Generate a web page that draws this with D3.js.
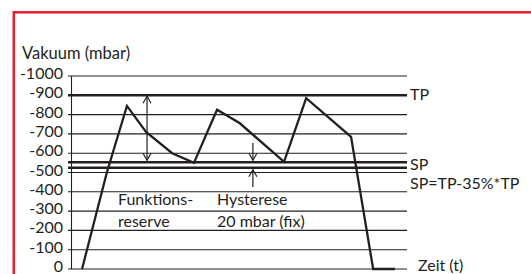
<!DOCTYPE html>
<html>
<head>
<meta charset="utf-8">
<script src="https://cdn.jsdelivr.net/npm/d3@7"></script>
<style>
    body { margin: 0; background: #fff; }
    text { font-family: Lato, "Liberation Sans", sans-serif; fill: #231f20; }
</style>
</head>
<body>
<div id="chart_area"></div>
<script>
// values
var time_vals   = [3.0, 10.4, 16.4, 22.1, 29.9, 36.4, 43.3, 50.1, 63.3, 69.9, 83.3, 89.9, 96.4];
var vacuum_vals = [0, -500, -845, -710, -600, -550, -825, -755, -555, -885, -685, 0, 0];
var y_ticks = [0, -100, -200, -300, -400, -500, -600, -700, -800, -900, -1000];
var tp_val = -900;
var sp_upper = -553;
var sp_lower = -525;
var reserve_x = 22.4;
var hyst_x = 54;

var svg_w = 531, svg_h = 274;
var svg = d3.select("#chart_area")
    .append("svg")
    .attr("width", svg_w)
    .attr("height", svg_h);

var xScale = d3.scaleLinear().domain([0, 100]).range([72, 407]);
var yScale = d3.scaleLinear().domain([0, -1000]).range([269, 76]);

// red frame
svg.append("rect")
    .attr("x", 13.8).attr("y", 12.3)
    .attr("width", 600).attr("height", 400)
    .style("fill", "none")
    .style("stroke", "#e61e2a")
    .style("stroke-width", 2.5);

svg.append("text")
    .attr("x", 22).attr("y", 59)
    .style("font-size", "16.5px")
    .text("Vakuum (mbar)");

// grid
var grid = svg.append("g").attr("id", "grid");
grid.selectAll("line")
    .data(y_ticks)
    .enter()
    .append("line")
    .attr("x1", 68)
    .attr("x2", xScale(100))
    .attr("y1", function(d){ return yScale(d); })
    .attr("y2", function(d){ return yScale(d); })
    .style("stroke", "#231f20")
    .style("stroke-width", 1.1);

grid.selectAll("text")
    .data(y_ticks)
    .enter()
    .append("text")
    .attr("x", 63)
    .attr("y", function(d){ return yScale(d) + 3; })
    .attr("text-anchor", "end")
    .style("font-size", "16px")
    .text(function(d){ return d == 0 ? "0" : "-" + Math.abs(d); });

svg.append("line")
    .attr("x1", 71.5).attr("x2", 71.5)
    .attr("y1", yScale(-1000)).attr("y2", yScale(0))
    .style("stroke", "#231f20")
    .style("stroke-width", 1.1);

// TP / SP lines
var ref_lines = [tp_val, sp_upper, sp_lower];
svg.append("g").selectAll("line")
    .data(ref_lines)
    .enter()
    .append("line")
    .attr("x1", 68)
    .attr("x2", xScale(100))
    .attr("y1", function(d){ return yScale(d); })
    .attr("y2", function(d){ return yScale(d); })
    .style("stroke", "#231f20")
    .style("stroke-width", 2.4);

// vacuum curve
var line = d3.line()
    .x(function(d){ return xScale(d[0]); })
    .y(function(d){ return yScale(d[1]); });

svg.append("path")
    .datum(d3.zip(time_vals, vacuum_vals))
    .attr("d", line)
    .style("fill", "none")
    .style("stroke", "#231f20")
    .style("stroke-width", 2.3)
    .style("stroke-linejoin", "miter");

// arrows
function arrow_head(x, y, dir){
    // dir -1 points up, 1 points down
    return "M" + (x - 4) + "," + (y - dir * 7) + "L" + x + "," + y + "L" + (x + 4) + "," + (y - dir * 7);
}
var arrows = svg.append("g")
    .style("fill", "none")
    .style("stroke", "#231f20")
    .style("stroke-width", 1.2);

var rx = xScale(reserve_x);
arrows.append("line")
    .attr("x1", rx).attr("x2", rx)
    .attr("y1", yScale(tp_val) + 1).attr("y2", yScale(sp_upper) - 2);
arrows.append("path").attr("d", arrow_head(rx, yScale(tp_val) + 1, -1));
arrows.append("path").attr("d", arrow_head(rx, yScale(sp_upper) - 2, 1));

var hx = xScale(hyst_x);
arrows.append("line")
    .attr("x1", hx).attr("x2", hx)
    .attr("y1", 143).attr("y2", yScale(sp_upper) - 2);
arrows.append("path").attr("d", arrow_head(hx, yScale(sp_upper) - 2, 1));
arrows.append("line")
    .attr("x1", hx).attr("x2", hx)
    .attr("y1", 187).attr("y2", yScale(sp_lower) + 2);
arrows.append("path").attr("d", arrow_head(hx, yScale(sp_lower) + 2, -1));

// labels
var labels = [
    {x: 118, y: 205, t: "Funktions-"},
    {x: 118, y: 227, t: "reserve"},
    {x: 217, y: 205, t: "Hysterese"},
    {x: 217, y: 227, t: "20 mbar (fix)"},
    {x: 410, y: 100, t: "TP"},
    {x: 410, y: 170, t: "SP"},
    {x: 410, y: 189, t: "SP=TP-35%*TP"},
    {x: 418, y: 271, t: "Zeit (t)"}
];
svg.append("g").selectAll("text")
    .data(labels)
    .enter()
    .append("text")
    .attr("x", function(d){ return d.x; })
    .attr("y", function(d){ return d.y; })
    .style("font-size", "16px")
    .text(function(d){ return d.t; });
</script>
</body>
</html>
